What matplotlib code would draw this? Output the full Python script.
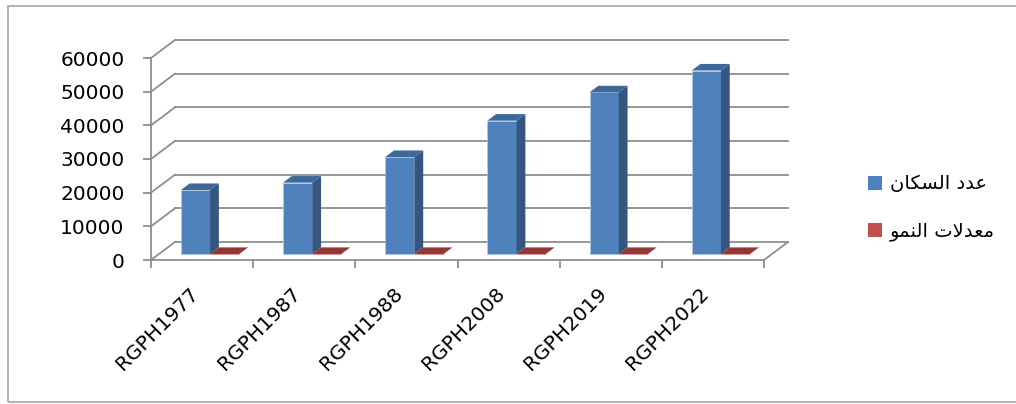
import numpy as np
import matplotlib
matplotlib.use('Agg')
import matplotlib.pyplot as plt
from matplotlib.patches import Polygon, Rectangle, Patch

categories = ['RGPH1977', 'RGPH1987', 'RGPH1988', 'RGPH2008', 'RGPH2019', 'RGPH2022']
population = [19000, 21200, 28800, 39600, 48000, 54500]
growth = [0, 1.2, 3.1, 3.2, 1.8, 4.2]
series_names = ['عدد السكان', 'معدلات النمو']
yticks = [0, 10000, 20000, 30000, 40000, 50000, 60000]

# --- very small arabic shaper (matplotlib has no shaping) ---
FORMS = {
    'ا': (0xFE8D, 0xFE8E), 'د': (0xFEA9, 0xFEAA), 'و': (0xFEED, 0xFEEE),
    'ت': (0xFE95, 0xFE96, 0xFE97, 0xFE98), 'س': (0xFEB1, 0xFEB2, 0xFEB3, 0xFEB4),
    'ع': (0xFEC9, 0xFECA, 0xFECB, 0xFECC), 'ك': (0xFED9, 0xFEDA, 0xFEDB, 0xFEDC),
    'ل': (0xFEDD, 0xFEDE, 0xFEDF, 0xFEE0), 'م': (0xFEE1, 0xFEE2, 0xFEE3, 0xFEE4),
    'ن': (0xFEE5, 0xFEE6, 0xFEE7, 0xFEE8),
}

def shape(s):
    out = []
    prev_dual = False
    i = 0
    while i < len(s):
        c = s[i]
        if c not in FORMS:
            out.append(c)
            prev_dual = False
            i += 1
            continue
        if c == 'ل' and i + 1 < len(s) and s[i + 1] == 'ا':
            out.append(chr(0xFEFC if prev_dual else 0xFEFB))
            prev_dual = False
            i += 2
            continue
        f = FORMS[c]
        dual = len(f) == 4
        nxt = dual and i + 1 < len(s) and s[i + 1] in FORMS
        if prev_dual and nxt:
            g = f[3]
        elif prev_dual:
            g = f[1]
        elif nxt:
            g = f[2]
        else:
            g = f[0]
        out.append(chr(g))
        prev_dual = dual
        i += 1
    return ''.join(reversed(out))


plt.rcParams['font.family'] = ['DejaVu Sans']
W, H = 1016, 404
fig = plt.figure(figsize=(W / 100, H / 100), dpi=100)

# outer chart frame (right edge is cut off in the original)
fig.patches.append(Rectangle((8 / W, 2 / H), 1.05, 396 / H, transform=fig.transFigure,
                             fill=False, edgecolor='#a6a6a6', lw=1.2, clip_on=False))

# axes = front plane of the 3d box
L, R, T, B = 151, 764, 58, 260
ax = fig.add_axes([L / W, 1 - B / H, (R - L) / W, (B - T) / H])
n = len(categories)
ax.set_xlim(0, n)
ax.set_ylim(0, 60000)
ax.patch.set_visible(False)

# depth vector (24px right, 18px up) in data units
DX = 24 / ((R - L) / n)
DY = 18 / ((B - T) / 60000)

grid_c = '#8e8e8e'
for v in yticks:
    ax.plot([DX, n + DX], [v + DY, v + DY], color=grid_c, lw=1.3, zorder=1, clip_on=False)
    ax.plot([0, DX], [v, v + DY], color=grid_c, lw=1.3, zorder=1, clip_on=False)
ax.plot([n, n + DX], [0, DY], color=grid_c, lw=1.3, zorder=1, clip_on=False)

for s in ['top', 'right']:
    ax.spines[s].set_visible(False)
for s in ['left', 'bottom']:
    ax.spines[s].set_color(grid_c)
    ax.spines[s].set_linewidth(1.3)

ax.set_yticks(yticks)
ax.set_yticklabels([str(v) for v in yticks], fontsize=14.5)
ax.tick_params(axis='y', direction='out', length=6, width=1.3, color=grid_c, pad=13)
ax.set_xticks(np.arange(n + 1))
ax.set_xticklabels([])
ax.set_xticks(np.arange(n) + 0.5, minor=True)
ax.set_xticklabels(categories, minor=True, rotation=45, ha='right', fontsize=14.5)
ax.tick_params(axis='x', which='major', direction='out', length=6, width=1.3, color=grid_c)
ax.tick_params(axis='x', which='minor', length=0, pad=17)

# 3d bars
gap = 1.5
w = 1 / (2 + gap)
d0, d1 = 0.333, 0.70
faces = [('#4f81bd', '#34567f', '#3e679a'), ('#c0504d', '#7c2e2c', '#953735')]
for k, vals in enumerate([population, growth]):
    front, side, top = faces[k]
    x0 = np.arange(n) + gap * w / 2 + k * w
    ax.bar(x0 + d0 * DX, vals, width=w, bottom=d0 * DY, align='edge', color=front,
           edgecolor='#b9cde5' if k == 0 else front, lw=0.4, zorder=3 + k, clip_on=False)
    for i, v in enumerate(vals):
        xa, xb = x0[i], x0[i] + w
        sp = [(xb + d0 * DX, d0 * DY), (xb + d1 * DX, d1 * DY),
              (xb + d1 * DX, v + d1 * DY), (xb + d0 * DX, v + d0 * DY)]
        tp = [(xa + d0 * DX, v + d0 * DY), (xb + d0 * DX, v + d0 * DY),
              (xb + d1 * DX, v + d1 * DY), (xa + d1 * DX, v + d1 * DY)]
        ax.add_patch(Polygon(sp, closed=True, facecolor=side, edgecolor='none', zorder=3 + k, clip_on=False))
        ax.add_patch(Polygon(tp, closed=True, facecolor=top, edgecolor='none', zorder=3 + k, clip_on=False))

handles = [Patch(facecolor=faces[0][0]), Patch(facecolor=faces[1][0])]
fig.legend(handles, [shape(s) for s in series_names], loc='upper left',
           bbox_to_anchor=(850 / W, 1 - 157 / H), frameon=False, fontsize=14,
           handlelength=0.76, handleheight=0.76, handletextpad=0.4, labelspacing=1.45)

fig.savefig('out.png', dpi=100)
